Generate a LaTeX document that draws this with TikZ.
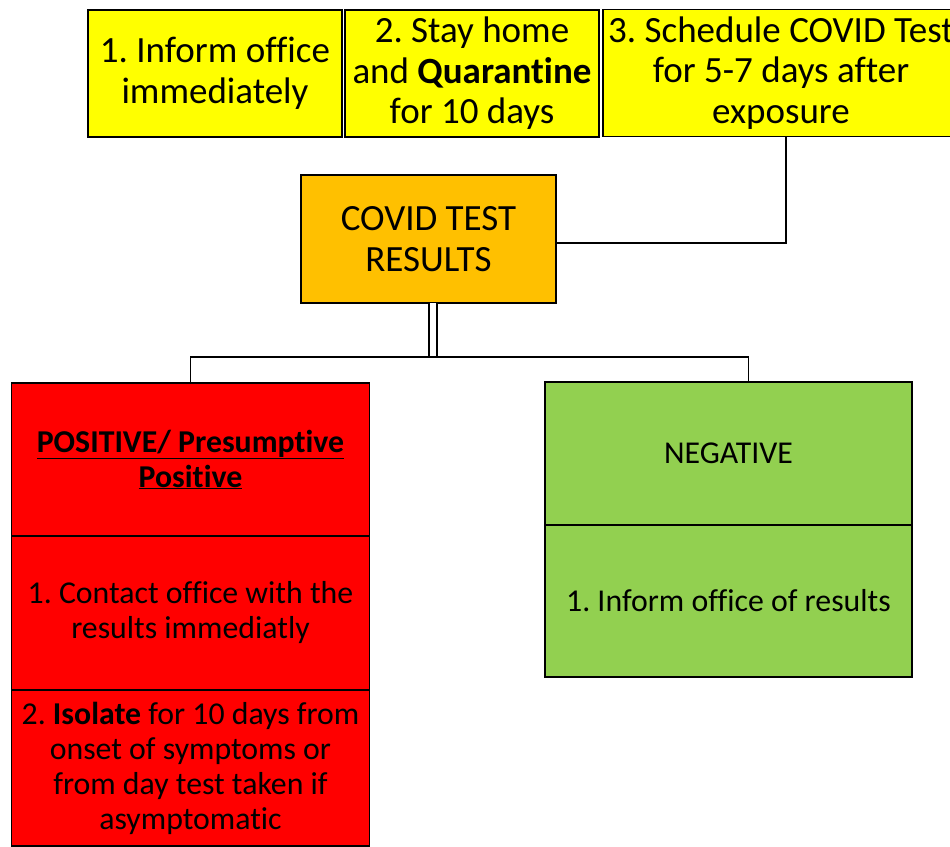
\documentclass[tikz,border=0pt]{standalone}
\usepackage{fontspec}
\setmainfont{Carlito}[Ligatures=NoCommon]
\usepackage{xcolor}
\usetikzlibrary{positioning}

\definecolor{boxyellow}{HTML}{FFFF00}
\definecolor{boxorange}{HTML}{FFC000}
\definecolor{boxred}{HTML}{FF0000}
\definecolor{boxgreen}{HTML}{92D050}

\frenchspacing
\begin{document}
\begin{tikzpicture}
[
x=1pt, y=-1pt,
graph box/.style={rectangle,draw=black,line width=1.6pt,align=center,inner sep=2pt,outer sep=0pt},
graph largetext/.style={font=\fontsize{37}{40.5}\selectfont},
graph smalltext/.style={font=\fontsize{31.8}{35}\selectfont},
graph yellowbox/.style={graph box,graph largetext,fill=boxyellow,minimum width=254pt,minimum height=127pt},
graph orangebox/.style={graph box,graph largetext,fill=boxorange,minimum width=255pt,minimum height=128pt},
graph redbox/.style={graph box,graph smalltext,fill=boxred,minimum width=358pt,minimum height=154pt},
graph greenbox/.style={graph box,graph smalltext,fill=boxgreen,minimum width=367pt},
graph line/.style={line width=1.6pt},
graph doubleline/.style={line width=1.6pt,double=white,double distance=6pt}
]

\useasboundingbox (0,0) rectangle (950,846);

% top row
\node[graph yellowbox] (B1) at (215,73.5) {1. Inform office\\immediately};
\node[graph yellowbox] (B2) at (472,73.5) {2. Stay home\\and \textbf{Quarantine}\\for 10 days};
\node[graph yellowbox, minimum width=356pt] (B3) at (781,73) {3. Schedule COVID Test\\for 5-7 days after\\exposure};

% test results
\node[graph orangebox] (C) at (428.5,239) {COVID TEST\\RESULTS};

% positive
\node[graph redbox, minimum height=153pt] (R1) at (190.5,459.5) {\underline{\textbf{POSITIVE/ Presumptive}}\\\underline{\textbf{Positive}}};
\node[graph redbox, below=0pt of R1] (R2) {1. Contact office with the\\results immediatly};
\node[graph redbox, below=0pt of R2, minimum height=156pt] (R3) {2. \textbf{Isolate} for 10 days from\\onset of symptoms or\\from day test taken if\\asymptomatic};

% negative
\node[graph greenbox, minimum height=143pt] (G1) at (728.5,453.5) {NEGATIVE};
\node[graph greenbox, below=0pt of G1, minimum height=152pt] (G2) {1. Inform office of results};

% connectors
\draw[graph line] ([xshift=5pt]B3.south) |- ([yshift=-4pt]C.east);
\coordinate (split) at (433,357);
\draw[graph doubleline] (C.south -| split) -- ([yshift=-1pt]split);
\draw[graph line] (R1.north) |- (split) -| ([xshift=20pt]G1.north);

\end{tikzpicture}
\end{document}
